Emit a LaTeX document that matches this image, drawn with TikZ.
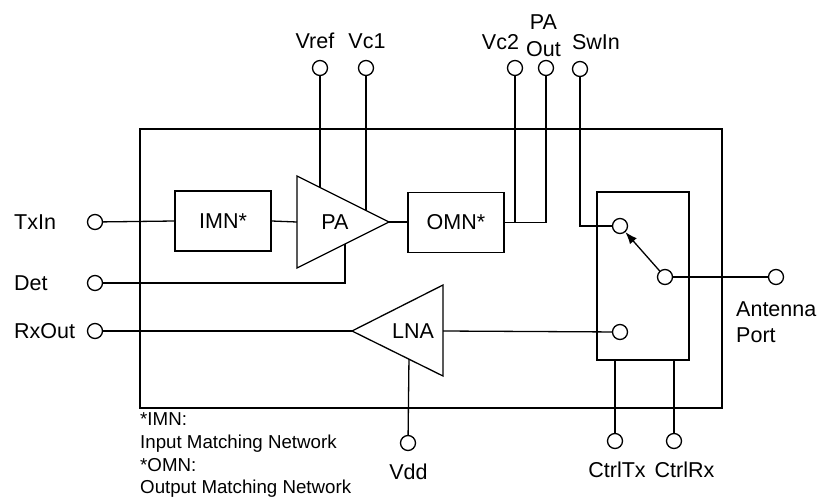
\documentclass[tikz,border=0pt]{standalone}
\usepackage{fontspec}
\setmainfont{Liberation Sans}
\usetikzlibrary{calc,arrows.meta}
\newcommand\mylbl{\fontsize{21.5}{26.5}\selectfont}
\newcommand\mynote{\fontsize{18.7}{22.7}\selectfont}
\begin{document}
\begin{tikzpicture}[x=1pt,y=-1pt,
  wire/.style={line width=1.3pt},
  pin/.style={circle,draw,line width=1.3pt,minimum size=15pt,inner sep=0pt},
  blk/.style={draw,line width=1.3pt,minimum width=96pt,minimum height=60pt,inner sep=0pt,font=\mylbl},
  lab/.style={inner sep=0pt,font=\mylbl},
  note/.style={inner sep=0pt,font=\mynote,align=left},
]
\useasboundingbox (0,0) rectangle (819,498);

% chip outline
\node[draw,line width=1.3pt,minimum width=582pt,minimum height=279pt,inner sep=0pt] (chip) at (431,268.5) {};

% blocks
\node[blk] (imn) at (223,221) {IMN*};
\node[blk] (omn) at (456,222.5) {OMN*};
\node[draw,line width=1.3pt,minimum width=92pt,minimum height=168pt,inner sep=0pt] (sw) at (643,276) {};

% PA triangle
\coordinate (pa-top) at (297,176);
\coordinate (pa-bot) at (297,268);
\coordinate (pa-tip) at (389,222);
\coordinate (pa-in) at (297,222);
\draw[wire] (pa-top) -- (pa-tip) -- (pa-bot) -- cycle;
\node[lab] (pa) at (335,222) {PA};

% LNA triangle
\coordinate (lna-tip) at (352,331);
\coordinate (lna-top) at (443,285);
\coordinate (lna-bot) at (443,376);
\coordinate (lna-out) at (443,331);
\draw[wire] (lna-tip) -- (lna-top) -- (lna-bot) -- cycle;
\node[lab] (lna) at (413,331) {LNA};

% pins
\node[pin] (txin) at (95,222) {};
\node[pin] (det) at (95,283) {};
\node[pin] (rxout) at (95,331) {};
\node[pin] (vref) at (320,68) {};
\node[pin] (vc1) at (366,68) {};
\node[pin] (vc2) at (515,68) {};
\node[pin] (paout) at (546,68) {};
\node[pin] (swin) at (580,69) {};
\node[pin] (ant) at (776,277) {};
\node[pin] (vdd) at (408,443) {};
\node[pin] (ctrltx) at (615,441) {};
\node[pin] (ctrlrx) at (674,441) {};
\node[pin] (sw1) at (620,226) {};
\node[pin] (swp) at (665,277) {};
\node[pin] (sw2) at (620,332) {};

% junction points on triangle edges
\coordinate (vref-j) at ($(pa-top)!0.25!(pa-tip)$);
\coordinate (vc1-j) at ($(pa-top)!0.75!(pa-tip)$);
\coordinate (det-j) at ($(pa-bot)!0.5217!(pa-tip)$);
\coordinate (vdd-j) at ($(lna-tip)!0.626!(lna-bot)$);

% wires
\draw[wire] (txin) -- (imn.west);
\draw[wire] (imn.east) -- (pa-in);
\draw[wire] (pa-tip) -- (pa-tip -| omn.west);
\draw[wire] (omn.east) -| (paout);
\draw[wire] (vc2) -- (vc2 |- omn.east);
\draw[wire] (vref) -- (vref-j);
\draw[wire] (vc1) -- (vc1-j);
\draw[wire] (det) -| (det-j);
\draw[wire] (rxout) -- (lna-tip);
\draw[wire] (lna-out) -- (sw2);
\draw[wire] (vdd) -- (vdd-j);
\draw[wire] (swin) |- (sw1);
\draw[wire] (swp) -- (ant);
\draw[wire,-{Latex[length=12pt,width=9pt]}] (swp) -- (sw1);
\draw[wire] (ctrltx) -- (ctrltx |- sw.south);
\draw[wire] (ctrlrx) -- (ctrlrx |- sw.south);

% labels
\node[lab,anchor=west] (l-txin) at (14,222) {TxIn};
\node[lab,anchor=west] (l-det) at (14,283) {Det};
\node[lab,anchor=west] (l-rxout) at (14,331) {RxOut};
\node[lab] (l-vref) at (315,41) {Vref};
\node[lab] (l-vc1) at (367,41) {Vc1};
\node[lab] (l-vc2) at (500.5,42) {Vc2};
\node[lab,align=center,anchor=south] (l-paout) at (543.5,56.7) {PA\\Out};
\node[lab] (l-swin) at (596,42) {SwIn};
\node[lab,align=left,anchor=north west] (l-ant) at (736,301.3) {Antenna\\Port};
\node[lab] (l-vdd) at (408.5,472) {Vdd};
\node[lab] (l-ctrltx) at (617,470) {CtrlTx};
\node[lab] (l-ctrlrx) at (684.5,470) {CtrlRx};
\node[note,anchor=north west] (fn) at (140,412.8) {*IMN:\\Input Matching Network\\*OMN:\\Output Matching Network};
\end{tikzpicture}
\end{document}
